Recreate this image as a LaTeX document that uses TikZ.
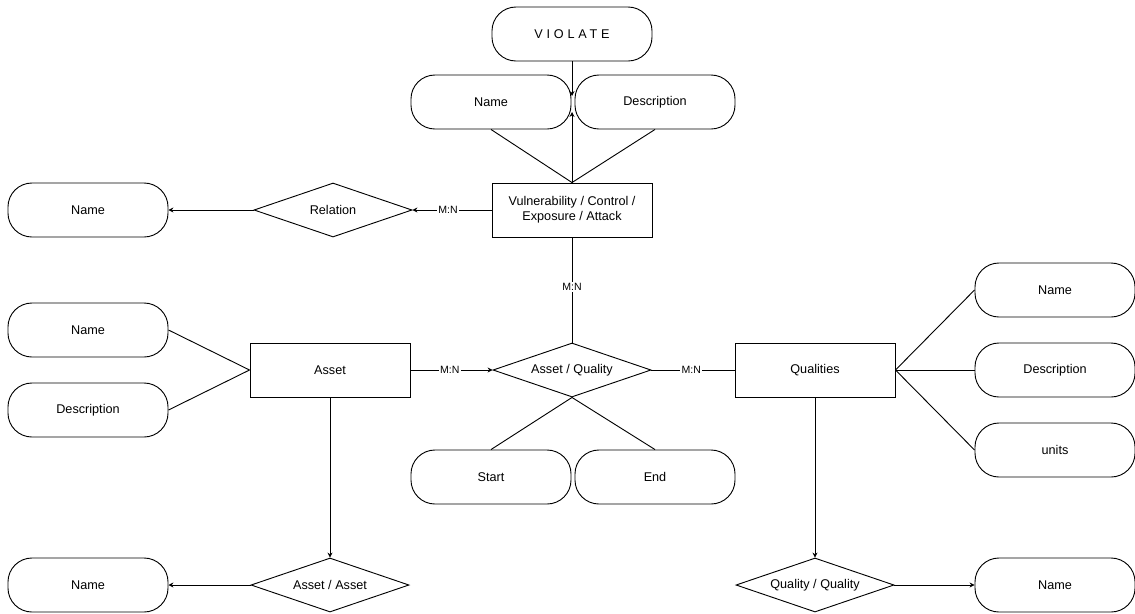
\documentclass[tikz,border=0pt]{standalone}
\usepackage{fontspec}
\setmainfont{Liberation Sans}
\usepackage{tikz}
\usetikzlibrary{arrows,arrows.meta,shapes,positioning,calc}

\begin{document}
\begin{tikzpicture}[>={Stealth[length=3.5pt,width=3.5pt]},x=0.025cm,y=-0.025cm,line width=0.65pt,
  font=\fontsize{9}{10.5}\selectfont,
  attr/.style={draw,rectangle,rounded corners=0.6cm,minimum width=4cm,minimum height=1.35cm},
  ent/.style={draw,rectangle,minimum width=4cm,minimum height=1.35cm,align=center},
  rel/.style={draw,diamond,aspect=3,inner sep=1pt,minimum width=3.95cm,minimum height=1.35cm},
  card/.style={fill=white,inner sep=1pt,font=\fontsize{7.5}{8}\selectfont}]
\useasboundingbox (0,0) rectangle (1135,613);
% top part
\node[attr] (Viol) at (572,34) {\addfontfeature{LetterSpace=30}VIOLATE};
\node[attr] (VName) at (491,102) {Name};
\node[attr] (VDesc) at (655,102) {Description};
\node[ent] (Vuln) at (572,210) {Vulnerability / Control /\\Exposure / Attack};
\coordinate (K1) at (572,96);
\coordinate (K2) at (572,112);
\node[rel] (Rel) at (333,210) {Relation};
\node[attr] (RName) at (88,210) {Name};
% middle row
\node[ent] (Asset) at (330,370) {Asset};
\node[attr] (AName) at (88,330) {Name};
\node[attr] (ADesc) at (88,410) {Description};
\node[rel] (AQ) at (572,370) {Asset / Quality};
\node[ent] (Qual) at (815,370) {Qualities};
\node[attr] (QName) at (1055,290) {Name};
\node[attr] (QDesc) at (1055,370) {Description};
\node[attr] (QUnit) at (1055,450) {units};
\node[attr] (Start) at (491,477) {Start};
\node[attr] (End) at (655,477) {End};
% bottom row
\node[rel] (AA) at (330,585) {Asset / Asset};
\node[attr] (AAName) at (88,585) {Name};
\node[rel] (QQ) at (815,585) {Quality / Quality};
\node[attr] (QQName) at (1055,585) {Name};

\draw[->] (Viol) -- (K1);
\draw[->] (Vuln) -- (K2);
\draw (VName.south) -- (Vuln.north);
\draw (VDesc.south) -- (Vuln.north);
\draw[->] (Vuln) -- node[card,pos=0.55]{M:N} (Rel);
\draw[->] (Rel) -- (RName);
\draw (Vuln) -- node[card,pos=0.47]{M:N} (AQ);
\draw[->] (Asset) -- node[card,pos=0.48]{M:N} (AQ);
\draw (AQ) -- node[card,pos=0.48]{M:N} (Qual);
\draw (Asset.west) -- (AName.east);
\draw (Asset.west) -- (ADesc.east);
\draw (Qual.east) -- (QName.west);
\draw (Qual.east) -- (QDesc.west);
\draw (Qual.east) -- (QUnit.west);
\draw (AQ.south) -- (Start.north);
\draw (AQ.south) -- (End.north);
\draw[->] (Asset) -- (AA);
\draw[->] (AA) -- (AAName);
\draw[->] (Qual) -- (QQ);
\draw[->] (QQ) -- (QQName);
\end{tikzpicture}
\end{document}
